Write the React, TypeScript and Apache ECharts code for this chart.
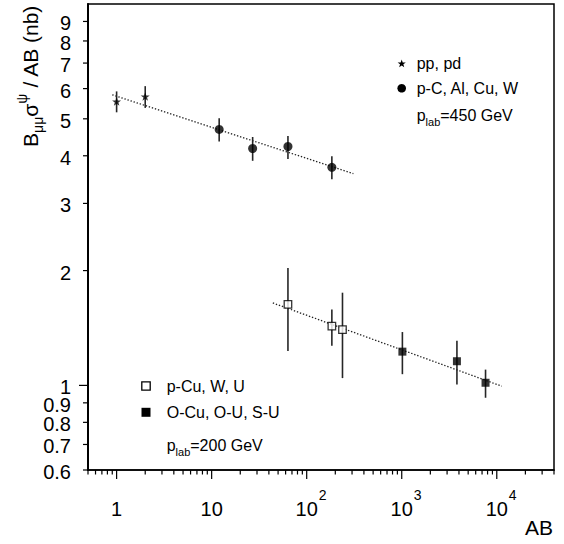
import React, { useEffect, useRef } from 'react';
import * as echarts from 'echarts';

const FONT = '"Liberation Sans", Arial, Helvetica, sans-serif';

// Axis ranges (log scales)
const X_MIN = 0.5;
const X_MAX = 40000;
const Y_MIN = 0.6;
const Y_MAX = 10;

// pp, pd at 450 GeV
const ppAB = [1, 2];
const ppSigma = [5.55, 5.72];
const ppLow = [5.2, 5.34];
const ppHigh = [5.9, 6.09];

// p-C, Al, Cu, W at 450 GeV
const pA450AB = [12, 27, 63.5, 184];
const pA450Sigma = [4.69, 4.18, 4.23, 3.73];
const pA450Low = [4.36, 3.88, 3.92, 3.47];
const pA450High = [5.02, 4.48, 4.51, 3.99];

// p-Cu, W, U at 200 GeV
const pA200AB = [63.5, 184, 238];
const pA200Sigma = [1.63, 1.43, 1.4];
const pA200Low = [1.23, 1.27, 1.045];
const pA200High = [2.03, 1.58, 1.75];

// O-Cu, O-U, S-U at 200 GeV
const ion200AB = [1016, 3808, 7616];
const ion200Sigma = [1.226, 1.157, 1.016];
const ion200Low = [1.07, 1.006, 0.928];
const ion200High = [1.38, 1.31, 1.1];

// Power-law fit lines (end points)
const fit450AB = [0.9, 310];
const fit450Sigma = [5.78, 3.59];
const fit200AB = [44, 11300];
const fit200Sigma = [1.645, 0.995];

const seriesNames = ['pp, pd', 'p-C, Al, Cu, W', 'p-Cu, W, U', 'O-Cu, O-U, S-U'];

// Axis ticks and tick labels
const xTickValues = [
  0.5, 0.6, 0.7, 0.8, 0.9,
  1, 2, 3, 4, 5, 6, 7, 8, 9,
  10, 20, 30, 40, 50, 60, 70, 80, 90,
  100, 200, 300, 400, 500, 600, 700, 800, 900,
  1000, 2000, 3000, 4000, 5000, 6000, 7000, 8000, 9000,
  10000, 20000, 30000, 40000,
];
const xLabelValues = [1, 10, 100, 1000, 10000];
const xLabelBase = ['1', '10', '10', '10', '10'];
const xLabelExp = ['', '', '2', '3', '4'];

const yTickValues = [0.6, 0.7, 0.8, 0.9, 1, 2, 3, 4, 5, 6, 7, 8, 9];
const yLabelValues = [0.6, 0.7, 0.8, 0.9, 1, 2, 3, 4, 5, 6, 7, 8, 9];
const yLabelTexts = ['0.6', '0.7', '0.8', '0.9', '1', '2', '3', '4', '5', '6', '7', '8', '9'];

const STAR =
  'path://M50 0 L61.76 33.82 L97.55 34.55 L69.02 56.18 L79.39 90.45 L50 70 L20.61 90.45 L30.98 56.18 L2.45 34.55 L38.24 33.82 Z';
const SQUARE = 'path://M0 0 L10 0 L10 10 L0 10 Z';

const pairs = (xs: number[], ys: number[]) => xs.map((v, i) => [v, ys[i]]);
const bars = (xs: number[], lo: number[], hi: number[]) => xs.map((v, i) => [v, lo[i], hi[i]]);

const isDecade = (v: number) => Math.abs(Math.log10(v) - Math.round(Math.log10(v))) < 1e-9;

// Five-pointed star outline for the key
function starPoints(cx: number, cy: number, R: number, r: number): number[][] {
  const pts: number[][] = [];
  for (let k = 0; k < 10; k++) {
    const ang = (-90 + k * 36) * (Math.PI / 180);
    const rad = k % 2 === 0 ? R : r;
    pts.push([cx + rad * Math.cos(ang), cy + rad * Math.sin(ang)]);
  }
  return pts;
}

function keyText(text: string, x: number, y: number) {
  return {
    type: 'text',
    style: {
      text,
      x,
      y,
      fontSize: 16,
      fontFamily: FONT,
      fill: '#000',
      align: 'left',
      verticalAlign: 'middle',
      textAlign: 'left',
      textVerticalAlign: 'middle',
    },
  };
}

function plabText(text: string, x: number, y: number) {
  return {
    type: 'text',
    style: {
      text,
      x,
      y,
      align: 'left',
      verticalAlign: 'middle',
      textAlign: 'left',
      textVerticalAlign: 'middle',
      fill: '#000',
      rich: {
        a: { fontSize: 16, fontFamily: FONT, fill: '#000' },
        s: { fontSize: 11, fontFamily: FONT, fill: '#000', padding: [14, 0, 0, 0] },
      },
    },
  };
}

function buildOption(): any {
  const textBase = { fontFamily: FONT, fill: '#000' };

  const errorSeries = (data: number[][]) => ({
    type: 'custom',
    silent: true,
    z: 2,
    encode: { x: 0, y: [1, 2] },
    data,
    renderItem: (_p: any, api: any) => {
      const a = api.coord([api.value(0), api.value(1)]);
      const b = api.coord([api.value(0), api.value(2)]);
      return {
        type: 'line',
        shape: { x1: a[0], y1: a[1], x2: b[0], y2: b[1] },
        style: { stroke: '#262626', lineWidth: 1.6 },
      };
    },
  });

  const fitSeries = (data: number[][]) => ({
    type: 'line',
    data,
    symbol: 'none',
    silent: true,
    z: 1,
    lineStyle: { color: '#222', width: 1.3, type: [1.4, 1.8] },
  });

  return {
    animation: false,
    backgroundColor: '#fff',
    grid: {
      left: 88,
      right: 10,
      top: 4,
      bottom: 74,
      show: true,
      borderColor: '#000',
      borderWidth: 1.5,
      backgroundColor: 'transparent',
    },
    xAxis: {
      type: 'log',
      logBase: 10,
      min: X_MIN,
      max: X_MAX,
      axisLine: { show: true, lineStyle: { color: '#000', width: 1.6 } },
      axisTick: { show: false },
      axisLabel: { show: false },
      splitLine: { show: false },
      minorTick: { show: false },
    },
    yAxis: {
      type: 'log',
      logBase: 10,
      min: Y_MIN,
      max: Y_MAX,
      axisLine: { show: true, lineStyle: { color: '#000', width: 2 } },
      axisTick: { show: false },
      axisLabel: { show: false },
      splitLine: { show: false },
      minorTick: { show: false },
    },
    graphic: [
      {
        type: 'text',
        x: 30,
        y: 76,
        rotation: Math.PI / 2,
        style: {
          text: '{a|B}{s|μμ}{a|σ}{p|ψ}{a| / AB (nb)}',
          align: 'center',
          verticalAlign: 'middle',
          textAlign: 'center',
          textVerticalAlign: 'middle',
          fill: '#000',
          rich: {
            a: { fontSize: 21, fontFamily: FONT, fill: '#000' },
            s: { fontSize: 14, fontFamily: FONT, fill: '#000', padding: [16, 0, 0, 0] },
            p: { fontSize: 14, fontFamily: FONT, fill: '#000', padding: [0, 0, 16, 0] },
          },
        },
      },
      {
        type: 'text',
        style: {
          ...textBase,
          text: 'AB',
          x: 553,
          y: 527,
          fontSize: 21,
          align: 'right',
          verticalAlign: 'middle',
          textAlign: 'right',
          textVerticalAlign: 'middle',
        },
      },
      // 450 GeV key
      {
        type: 'polygon',
        shape: { points: starPoints(401.7, 63.8, 4.3, 1.75) },
        style: { fill: '#000' },
      },
      keyText(seriesNames[0], 416.7, 63.3),
      {
        type: 'circle',
        shape: { cx: 401.7, cy: 88.3, r: 4.3 },
        style: { fill: '#000' },
      },
      keyText(seriesNames[1], 416.7, 88.3),
      plabText('{a|p}{s|lab}{a|=450 GeV}', 416.7, 115),
      // 200 GeV key
      {
        type: 'rect',
        shape: { x: 141.8, y: 381.8, width: 8.4, height: 8.4 },
        style: { fill: '#fff', stroke: '#000', lineWidth: 1.3 },
      },
      keyText(seriesNames[2], 166.7, 386),
      {
        type: 'rect',
        shape: { x: 141.5, y: 407.8, width: 9, height: 9 },
        style: { fill: '#000' },
      },
      keyText(seriesNames[3], 166.7, 412.3),
      plabText('{a|p}{s|lab}{a|=200 GeV}', 166.7, 445.3),
    ],
    series: [
      fitSeries(pairs(fit450AB, fit450Sigma)),
      fitSeries(pairs(fit200AB, fit200Sigma)),
      errorSeries(bars(ppAB, ppLow, ppHigh)),
      errorSeries(bars(pA450AB, pA450Low, pA450High)),
      errorSeries(bars(pA200AB, pA200Low, pA200High)),
      errorSeries(bars(ion200AB, ion200Low, ion200High)),
      {
        name: seriesNames[0],
        type: 'scatter',
        z: 3,
        symbol: STAR,
        symbolSize: 9,
        symbolKeepAspect: true,
        itemStyle: { color: '#000' },
        data: pairs(ppAB, ppSigma),
      },
      {
        name: seriesNames[1],
        type: 'scatter',
        z: 3,
        symbol: 'circle',
        symbolSize: 9,
        itemStyle: { color: '#000' },
        data: pairs(pA450AB, pA450Sigma),
      },
      {
        name: seriesNames[2],
        type: 'scatter',
        z: 3,
        symbol: SQUARE,
        symbolSize: 7.5,
        symbolKeepAspect: true,
        itemStyle: { color: '#fff', borderColor: '#000', borderWidth: 1.3 },
        data: pairs(pA200AB, pA200Sigma),
      },
      {
        name: seriesNames[3],
        type: 'scatter',
        z: 3,
        symbol: SQUARE,
        symbolSize: 8,
        symbolKeepAspect: true,
        itemStyle: { color: '#000' },
        data: pairs(ion200AB, ion200Sigma),
      },
      // x-axis ticks
      {
        type: 'custom',
        silent: true,
        clip: false,
        z: 4,
        encode: { x: 0, y: 1 },
        data: xTickValues.map((v) => [v, Y_MIN]),
        renderItem: (_p: any, api: any) => {
          const v = api.value(0);
          const p = api.coord([v, Y_MIN]);
          const len = isDecade(v) ? 9 : 4.5;
          return {
            type: 'line',
            shape: { x1: p[0], y1: p[1], x2: p[0], y2: p[1] + len },
            style: { stroke: '#000', lineWidth: 1.2 },
          };
        },
      },
      // y-axis ticks
      {
        type: 'custom',
        silent: true,
        clip: false,
        z: 4,
        encode: { x: 0, y: 1 },
        data: yTickValues.map((v) => [X_MIN, v]),
        renderItem: (_p: any, api: any) => {
          const v = api.value(1);
          const p = api.coord([X_MIN, v]);
          const len = isDecade(v) ? 9 : 5;
          return {
            type: 'line',
            shape: { x1: p[0] - len, y1: p[1], x2: p[0], y2: p[1] },
            style: { stroke: '#000', lineWidth: 1.2 },
          };
        },
      },
      // x-axis labels (powers of ten)
      {
        type: 'custom',
        silent: true,
        clip: false,
        z: 4,
        encode: { x: 0, y: 1 },
        data: xLabelValues.map((v) => [v, Y_MIN]),
        renderItem: (params: any, api: any) => {
          const i = params.dataIndex;
          const p = api.coord([api.value(0), Y_MIN]);
          const children: any[] = [
            {
              type: 'text',
              style: {
                ...textBase,
                text: xLabelBase[i],
                x: p[0],
                y: p[1] + 39,
                fontSize: 20,
                align: 'center',
                verticalAlign: 'middle',
              },
            },
          ];
          if (xLabelExp[i]) {
            children.push({
              type: 'text',
              style: {
                ...textBase,
                text: xLabelExp[i],
                x: p[0] + 12,
                y: p[1] + 25,
                fontSize: 14,
                align: 'left',
                verticalAlign: 'middle',
              },
            });
          }
          return { type: 'group', children };
        },
      },
      // y-axis labels
      {
        type: 'custom',
        silent: true,
        clip: false,
        z: 4,
        encode: { x: 0, y: 1 },
        data: yLabelValues.map((v) => [X_MIN, v]),
        renderItem: (params: any, api: any) => {
          const i = params.dataIndex;
          const p = api.coord([X_MIN, api.value(1)]);
          return {
            type: 'text',
            style: {
              ...textBase,
              text: yLabelTexts[i],
              x: p[0] - 17,
              y: p[1] + 2,
              fontSize: 20,
              align: 'right',
              verticalAlign: 'middle',
            },
          };
        },
      },
    ],
  };
}

export default function App() {
  const ref = useRef<HTMLDivElement>(null);

  useEffect(() => {
    if (!ref.current) return;
    const chart = echarts.init(ref.current, undefined, { renderer: 'svg' });
    chart.setOption(buildOption());
    return () => chart.dispose();
  }, []);

  return (
    <div
      ref={ref}
      style={{ position: 'absolute', left: 0, top: 0, width: 564, height: 544, background: '#fff' }}
    />
  );
}
